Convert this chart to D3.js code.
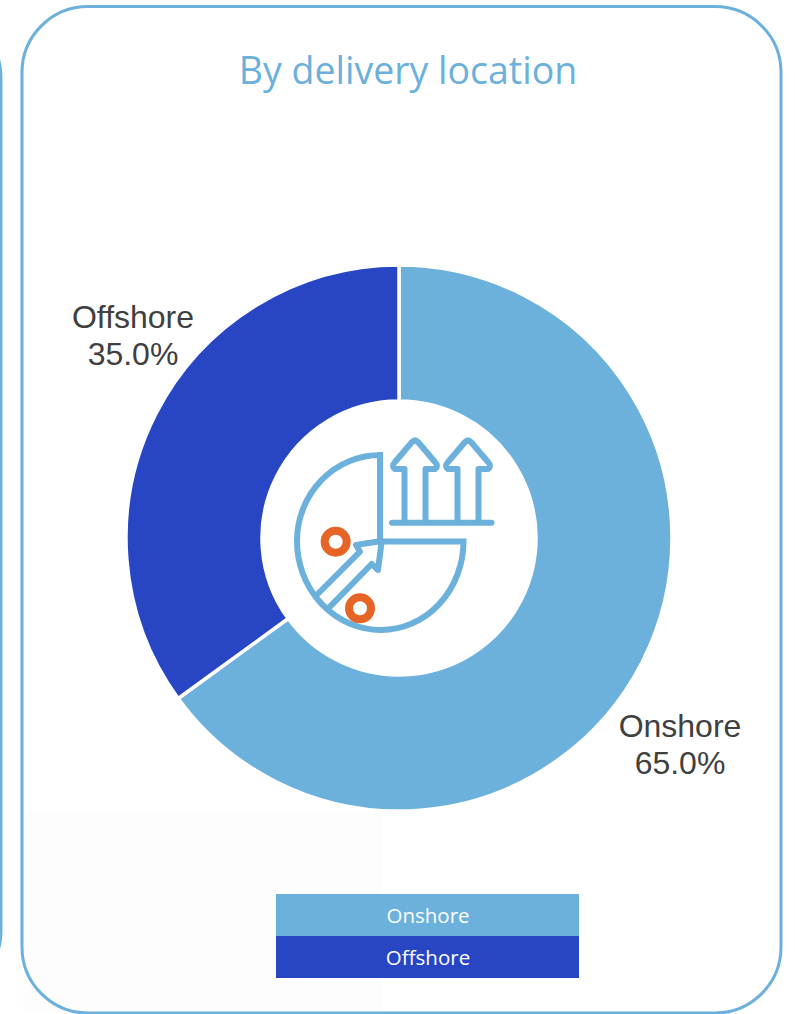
<!DOCTYPE html>
<html><head><meta charset="utf-8">
<script src="https://cdn.jsdelivr.net/npm/d3@7"></script>
<style>html,body{margin:0;padding:0;background:#fff;overflow:hidden}svg{display:block}</style>
</head><body><div id="c"></div>
<script>
const categories = ["Onshore", "Offshore"];
const shares = [65.0, 35.0];
const colors = ["#6cb0dc", "#2846c4"];
const titleText = "By delivery location";

const W = 795, H = 1014, blue = "#6cb0dc", orange = "#e66425";
const svg = d3.select("#c").append("svg").attr("width", W).attr("height", H);

svg.append("rect").attr("x", 23).attr("y", 812).attr("width", 359).attr("height", 200).attr("fill", "#fdfdfd");
svg.append("rect").attr("x", 22).attr("y", 6.5).attr("width", 759).attr("height", 1006.5).attr("rx", 66)
  .attr("fill", "none").attr("stroke", blue).attr("stroke-width", 3);
// neighbouring panel edge
svg.append("path").attr("d", "M-30,36 Q1,38 1,80 L1,930 Q1,968 -30,970")
  .attr("fill", "none").attr("stroke", blue).attr("stroke-width", 3);

svg.append("text").attr("x", 408).attr("y", 84).attr("text-anchor", "middle")
  .attr("font-family", "'Open Sans'").attr("font-size", 37.5).attr("fill", blue).text(titleText);

const cx = 399, cy = 538, rOuter = 273, rInner = 137;
const pie = d3.pie().sort(null).value(d => d)(shares);
const arc = d3.arc().innerRadius(rInner).outerRadius(rOuter);
const g = svg.append("g").attr("transform", `translate(${cx},${cy})`);
g.selectAll("path").data(pie).join("path").attr("d", arc)
  .attr("fill", (d, i) => colors[i]).attr("stroke", "#fff").attr("stroke-width", 3.5);

const labelPos = [[680, 737], [133, 328]];
categories.forEach((c, i) => {
  const t = svg.append("text").attr("text-anchor", "middle")
    .attr("font-family", "'Liberation Sans'").attr("font-size", 32).attr("fill", "#404040");
  t.append("tspan").attr("x", labelPos[i][0]).attr("y", labelPos[i][1]).text(c);
  t.append("tspan").attr("x", labelPos[i][0]).attr("y", labelPos[i][1] + 36.5).text(d3.format(".1f")(shares[i]) + "%");
});

// centre icon
const ic = svg.append("g").attr("fill", "none").attr("stroke", blue).attr("stroke-width", 6)
  .attr("stroke-linecap", "round").attr("stroke-linejoin", "round");
ic.append("path").attr("stroke-linejoin", "miter").attr("stroke-linecap", "butt")
  .attr("d", "M380,452 L380,541.5 M380.5,455 A83.5,86 0 0 0 297,541 A84,89 0 0 0 381,630 A82.5,89 0 0 0 463.5,541.5 L380,541.5");
ic.append("path").attr("d", "M316.7,595 L360,551.7 L356,545 L381.7,541 L378,570 L371.7,564 L330,606.7");
ic.append("path").attr("d", "M392,522.7 L491.5,522.7");
const arrow = x => `M${x - 10.5},522 L${x - 10.5},469 L${x - 20},469 Q${x - 24},466 ${x - 20},462 L${x - 3},442 Q${x},439 ${x + 3},442 L${x + 20},462 Q${x + 24},466 ${x + 20},469 L${x + 10.5},469 L${x + 10.5},522`;
ic.append("path").attr("d", arrow(415));
ic.append("path").attr("d", arrow(468));
[[335.7, 541.7], [360, 608.3]].forEach(p => svg.append("circle").attr("cx", p[0]).attr("cy", p[1]).attr("r", 11)
  .attr("fill", "#fff").attr("stroke", orange).attr("stroke-width", 8));

// legend
const legY = d3.scaleBand().domain(categories).range([894, 978]);
const leg = svg.append("g");
leg.selectAll("rect").data(categories).join("rect").attr("x", 276).attr("width", 303)
  .attr("y", d => legY(d)).attr("height", legY.bandwidth()).attr("fill", (d, i) => colors[i]);
leg.selectAll("text").data(categories).join("text").attr("x", 428).attr("y", d => legY(d) + 29)
  .attr("text-anchor", "middle").attr("font-family", "'Open Sans'").attr("font-size", 20.5).attr("fill", "#fff").text(d => d);
</script></body></html>
